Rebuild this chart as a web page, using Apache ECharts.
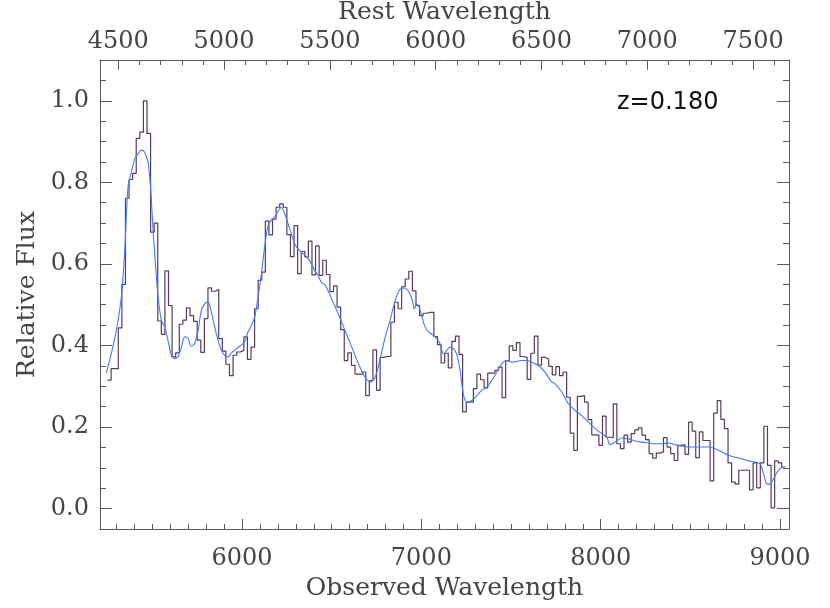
<!DOCTYPE html>
<html><head><meta charset="utf-8">
<script src="https://cdn.jsdelivr.net/npm/echarts@6/dist/echarts.min.js"></script>
<style>html,body{margin:0;padding:0;background:#fff}#c{width:830px;height:608px}</style>
</head><body><div id="c"></div>
<script>
const redshift = 0.18;
const redshiftLabel = 'z=0.180';
const binStart = 5250;   // left edge of first bin (observed Å)
const binWidth = 20;     // Å
const fluxBinned = [
// 5260 - 6460
0.315,0.343,0.343,0.443,0.550,0.761,0.807,0.822,0.908,0.923,1.000,0.920,0.678,0.700,0.460,0.427,0.583,0.498,0.372,0.382,
0.452,0.462,0.492,0.473,0.459,0.413,0.383,0.466,0.541,0.533,0.537,0.417,0.386,0.354,0.326,0.376,0.384,0.388,0.421,0.366,
0.396,0.490,0.560,0.580,0.705,0.671,0.710,0.739,0.747,0.739,0.672,0.618,0.694,0.576,0.631,0.617,0.656,0.573,0.644,0.572,
0.609,
// 6480 - 7740
0.574,0.532,0.546,0.494,0.439,0.363,0.382,0.351,0.330,0.329,0.335,0.277,0.314,0.389,0.290,0.371,0.373,0.373,0.457,0.506,
0.490,0.544,0.563,0.582,0.534,0.498,0.473,0.479,0.481,0.481,0.422,0.402,0.357,0.381,0.345,0.410,0.423,0.378,0.237,0.261,
0.261,0.294,0.330,0.316,0.296,0.332,0.332,0.339,0.347,0.272,0.363,0.399,0.388,0.407,0.373,0.371,0.317,0.381,0.423,0.352,
0.371,0.367,0.349,0.328,
// 7760 - 9020
0.348,0.326,0.335,0.273,0.185,0.143,0.275,0.277,0.261,0.218,0.181,0.180,0.155,0.227,0.175,0.174,0.257,0.159,0.147,0.180,
0.163,0.184,0.193,0.198,0.180,0.169,0.135,0.124,0.136,0.139,0.174,0.151,0.135,0.118,0.155,0.157,0.133,0.212,0.190,0.125,
0.188,0.167,0.167,0.068,0.234,0.265,0.219,0.196,0.112,0.065,0.060,0.094,0.094,0.094,0.046,0.112,0.051,0.112,0.202,0.106,
0.002,0.117,0.112,0.102
];
const smoothWave = [
5243,5271,5299,5327,5346,5364,5383,5401,5420,5439,5457,5476,5491,5504,5517,5532,5550,5569,5587,5606,
5624,5643,5662,5680,5699,5717,5736,5755,5773,5792,5810,5829,5848,5866,5885,5903,5922,5941,5959,5978,
5996,6015,6033,6052,6071,6089,6108,6126,6145,6164,6182,6201,6219,6238,6257,6275,6294,6312,6331,6350,
6368,6387,6405,6424,6442,
6463,6500,6537,6574,6612,6649,6686,6714,6742,6770,6798,6825,6844,6863,6881,6909,6937,6950,6961,6974,
6987,7002,7021,7049,7076,7104,7123,7141,7160,7179,7197,7216,7234,7253,7281,7309,7337,7365,7392,7420,
7448,7476,7504,7532,7560,7588,7615,7653,7690,7727,
7746,7783,7820,7857,7894,7932,7969,8006,8034,8052,8080,8118,8155,8192,8229,8266,8303,8341,8378,8415,
8452,8489,8527,8564,8601,8638,8675,8712,8750,8787,8824,8861,8889,8908,8926,8945,8963,8991,9014
];
const smoothFlux = [
0.333,0.380,0.437,0.519,0.633,0.788,0.825,0.857,0.870,0.879,0.874,0.849,0.780,0.682,0.600,0.519,0.462,0.445,0.413,0.376,
0.368,0.372,0.396,0.421,0.417,0.398,0.405,0.437,0.486,0.502,0.507,0.482,0.445,0.413,0.388,0.376,0.372,0.382,0.388,0.395,
0.401,0.409,0.433,0.449,0.470,0.519,0.576,0.641,0.694,0.708,0.715,0.729,0.739,0.723,0.698,0.674,0.649,0.637,0.629,0.621,
0.613,0.600,0.584,0.572,0.555,
0.549,0.514,0.477,0.437,0.396,0.355,0.322,0.310,0.322,0.367,0.420,0.461,0.494,0.522,0.538,0.541,0.526,0.510,0.490,0.502,
0.494,0.473,0.445,0.430,0.422,0.404,0.379,0.388,0.396,0.392,0.379,0.339,0.281,0.261,0.265,0.277,0.290,0.298,0.314,0.334,
0.355,0.363,0.359,0.361,0.363,0.363,0.359,0.351,0.334,0.310,
0.306,0.286,0.257,0.241,0.228,0.212,0.196,0.184,0.175,0.157,0.163,0.173,0.171,0.166,0.163,0.161,0.159,0.159,0.161,0.157,
0.153,0.151,0.151,0.151,0.151,0.147,0.139,0.131,0.126,0.122,0.117,0.114,0.110,0.086,0.061,0.060,0.073,0.094,0.102
];
const obsRange = [5208, 9050];
const fluxRange = [-0.05, 1.1];
const obsMajorTicks = [6000, 7000, 8000, 9000];
const restMajorTicks = [4500, 5000, 5500, 6000, 6500, 7000, 7500];
const fluxMajorTicks = [0.0, 0.2, 0.4, 0.6, 0.8, 1.0];

function stepList(a, b, s) { const r = []; for (let v = a; v <= b + 1e-9; v += s) r.push(+v.toFixed(4)); return r; }
const obsMinorTicks = stepList(5300, 9000, 100);
const restMinorTicks = stepList(4500, 7600, 100);
const fluxMinorTicks = stepList(0.0, 1.05, 0.05);

const histData = fluxBinned.map((v, i) => [binStart + i * binWidth, v]);
histData.push([binStart + fluxBinned.length * binWidth, fluxBinned[fluxBinned.length - 1]]);
const smoothData = smoothWave.map((w, i) => [w, smoothFlux[i]]);

const FONT = 'DejaVu Serif';
const AX = '#5a5a5a';
const TXT = '#444';
const lbl = { fontFamily: FONT, fontSize: 24, color: TXT };
const nameStyle = { fontFamily: FONT, fontSize: 25, color: TXT };

function xAx(pos, range, major, minor, name, gap, margin) {
  return [
    { type: 'value', position: pos, min: range[0], max: range[1],
      axisLine: { show: true, onZero: false, lineStyle: { color: AX, width: 1 } },
      axisTick: { show: true, inside: true, length: 10, customValues: major, lineStyle: { color: AX } },
      axisLabel: { show: true, customValues: major, margin: margin, formatter: v => String(Math.round(v)), ...lbl },
      splitLine: { show: false },
      name: name, nameLocation: 'middle', nameGap: gap, nameTextStyle: nameStyle },
    { type: 'value', position: pos, min: range[0], max: range[1],
      axisLine: { show: false, onZero: false },
      axisTick: { show: true, inside: true, length: 5, customValues: minor, lineStyle: { color: AX } },
      axisLabel: { show: false }, splitLine: { show: false } }
  ];
}
function yAx(pos, withLabels) {
  return [
    { type: 'value', position: pos, min: fluxRange[0], max: fluxRange[1],
      axisLine: { show: true, onZero: false, lineStyle: { color: AX, width: 1 } },
      axisTick: { show: true, inside: true, length: 12, customValues: fluxMajorTicks, lineStyle: { color: AX } },
      axisLabel: { show: withLabels, customValues: fluxMajorTicks, margin: 11, formatter: v => v.toFixed(1), ...lbl },
      splitLine: { show: false },
      name: withLabels ? 'Relative Flux' : '', nameLocation: 'middle', nameGap: 55, nameTextStyle: nameStyle },
    { type: 'value', position: pos, min: fluxRange[0], max: fluxRange[1],
      axisLine: { show: false, onZero: false },
      axisTick: { show: true, inside: true, length: 6, customValues: fluxMinorTicks, lineStyle: { color: AX } },
      axisLabel: { show: false }, splitLine: { show: false } }
  ];
}

const restRange = obsRange.map(w => w / (1 + redshift));
const chart = echarts.init(document.getElementById('c'), null, { renderer: 'canvas' });
chart.setOption({
  animation: false,
  backgroundColor: '#fff',
  grid: { left: 100, right: 41, top: 60, bottom: 79, containLabel: false, outerBoundsMode: 'none' },
  title: { text: redshiftLabel, left: 612, top: 86,
    textStyle: { fontFamily: 'DejaVu Sans', fontSize: 24, fontWeight: 'normal', color: '#111' } },
  xAxis: [
    ...xAx('bottom', obsRange, obsMajorTicks, obsMinorTicks, 'Observed Wavelength', 47, 18),
    ...xAx('top', restRange, restMajorTicks, restMinorTicks, 'Rest Wavelength', 25, 6)
  ],
  yAxis: [ ...yAx('left', true), ...yAx('right', false) ],
  series: [
    { type: 'line', name: 'binned', xAxisIndex: 0, yAxisIndex: 0, data: histData, step: 'end',
      showSymbol: false, symbol: 'none', lineStyle: { color: '#5a3a5c', width: 1.2 }, clip: true },
    { type: 'line', name: 'smooth', xAxisIndex: 0, yAxisIndex: 0, data: smoothData, smooth: 0.3,
      showSymbol: false, symbol: 'none', lineStyle: { color: '#3d7bff', width: 1.1 }, clip: true }
  ]
});
</script></body></html>
